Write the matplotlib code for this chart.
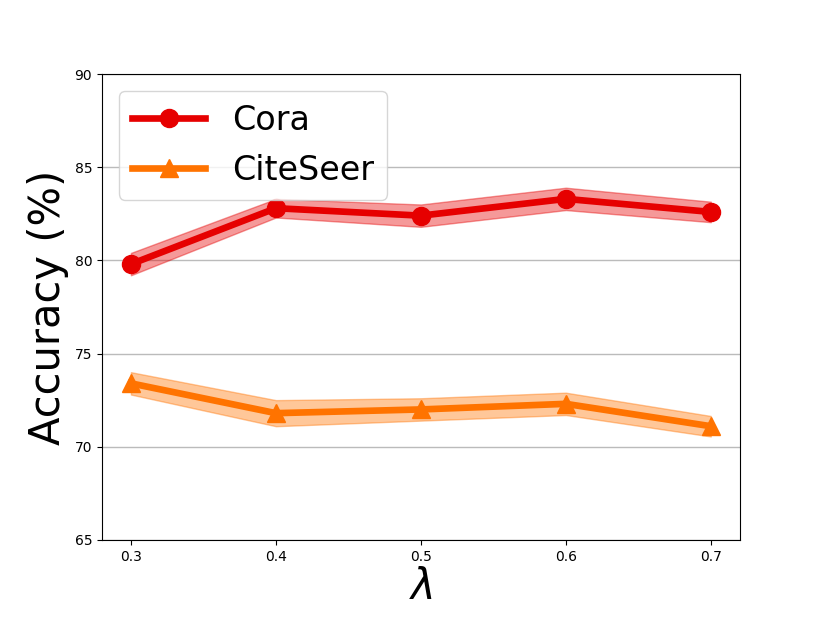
import numpy as np
import matplotlib
matplotlib.use("Agg")
from matplotlib import pyplot as plt

lambdas = [0.3, 0.4, 0.5, 0.6, 0.7]
cora_acc = [79.8, 82.8, 82.4, 83.3, 82.6]
cora_std = [0.6, 0.5, 0.6, 0.6, 0.55]
citeseer_acc = [73.4, 71.8, 72.0, 72.3, 71.1]
citeseer_std = [0.6, 0.7, 0.6, 0.6, 0.55]

fig = plt.figure(figsize=(8.22, 6.17), dpi=100)
ax = fig.add_axes([0.124, 0.125, 0.776, 0.755])

x = np.array(lambdas)
for acc, std, color, marker, label in [
    (cora_acc, cora_std, '#e60000', 'o', 'Cora'),
    (citeseer_acc, citeseer_std, '#ff7300', '^', 'CiteSeer'),
]:
    acc = np.array(acc)
    std = np.array(std)
    ax.plot(x, acc, color=color, linewidth=4.8, marker=marker, markersize=13, label=label, zorder=3)
    ax.fill_between(x, acc - std, acc + std, color=color, alpha=0.4, linewidth=1, zorder=2)

ax.set_ylim(65, 90)
ax.set_yticks([65, 70, 75, 80, 85, 90])
ax.set_xticks(lambdas)
ax.set_xticklabels(['0.3', '0.4', '0.5', '0.6', '0.7'])
ax.tick_params(labelsize=10)
ax.yaxis.grid(True, color='#bbbbbb', linewidth=1)
ax.set_axisbelow(True)
ax.set_xlabel(r'$\lambda$', fontsize=30, labelpad=2)
ax.set_ylabel('Accuracy (%)', fontsize=30)
ax.legend(loc='upper left', fontsize=24, handlelength=2.2, borderpad=0.4)

fig.savefig('out.png', dpi=100)
